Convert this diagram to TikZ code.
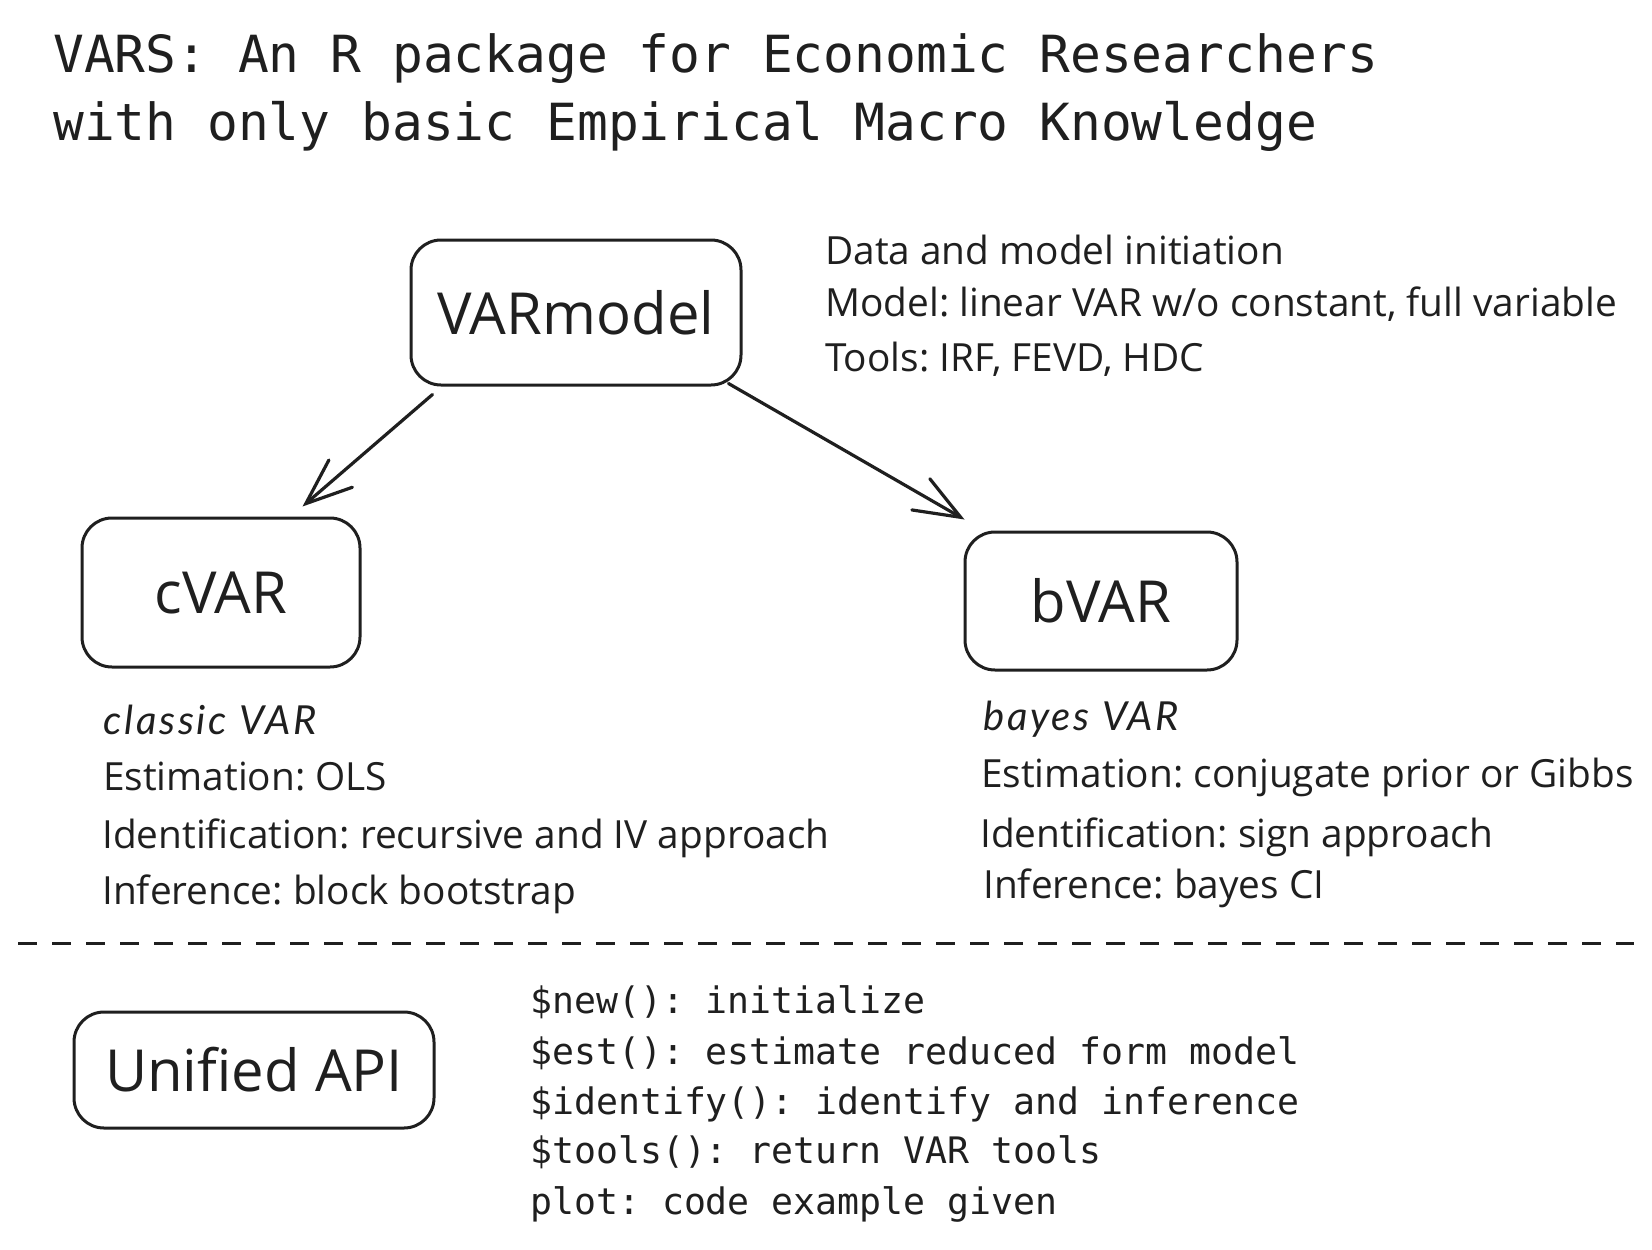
\documentclass[tikz,border=0pt]{standalone}
\usepackage{fontspec}
\setmainfont{Open Sans}
\newfontfamily\monofont{DejaVu Sans Mono}
\newfontfamily\handfont{Lato}[LetterSpace=7]
\usepackage{tikz}
\usetikzlibrary{arrows.meta, positioning, calc}
\frenchspacing

\begin{document}
\begin{tikzpicture}[x=1pt, y=-1pt,
        model/.style={rectangle, draw=black!88, text=black!88, line width=3pt, rounded corners=30pt, inner sep=0pt, font=\fontsize{58}{70}\selectfont},
        note/.style={anchor=base west, inner sep=0pt, text=black!88, font=\fontsize{38.8}{47}\selectfont},
        hand/.style={anchor=base west, inner sep=0pt, text=black!88, font=\handfont\itshape\fontsize{40}{48}\selectfont},
        code/.style={anchor=base west, inner sep=0pt, text=black!88, font=\monofont\fontsize{36.5}{50}\selectfont},
        heading/.style={anchor=base west, inner sep=0pt, text=black!88, font=\monofont\fontsize{51.2}{68}\selectfont},
        arrow/.style={-{Straight Barb[length=46pt, width=36pt, line cap=round]}, line width=3.2pt, line cap=round, draw=black!88}
    ]
        \useasboundingbox (0,0) rectangle (1652,1250);

        % Title
        \node[heading] (title1) at (53,72) {VARS: An R package for Economic Researchers};
        \node[heading] (title2) at (53,140) {with only basic Empirical Macro Knowledge};

        % Model boxes
        \node[model, minimum width=330pt, minimum height=145pt] (varmodel) at (576,312.5) {VARmodel};
        \node[model, minimum width=278pt, minimum height=149pt] (cvar) at (221,592.5) {cVAR};
        \node[model, minimum width=272pt, minimum height=138pt] (bvar) at (1101,601) {bVAR};

        % VARmodel notes
        \node[note] (vm1) at (825,264) {Data and model initiation};
        \node[note] (vm2) at (825,316) {Model: linear VAR w/o constant, full variable};
        \node[note] (vm3) at (825,371) {Tools: IRF, FEVD, HDC};

        % cVAR notes
        \node[hand] (cv0) at (103,734) {classic VAR};
        \node[note] (cv1) at (103,790) {Estimation: OLS};
        \node[note] (cv2) at (102,848) {Identification: recursive and IV approach};
        \node[note] (cv3) at (102,904) {Inference: block bootstrap};

        % bVAR notes
        \node[hand] (bv0) at (983,730) {bayes VAR};
        \node[note] (bv1) at (981,787) {Estimation: conjugate prior or Gibbs};
        \node[note] (bv2) at (980,847) {Identification: sign approach};
        \node[note] (bv3) at (983,898) {Inference: bayes CI};

        % Connectors
        \draw[arrow] ([shift={(23,8)}]varmodel.south west) -- ([shift={(-59,-10)}]cvar.north east);
        \draw[arrow] ([shift={(-14,-3)}]varmodel.south east) -- ([shift={(1,-11)}]bvar.north west);

        % Separator
        \coordinate (sepL) at (18,943);
        \coordinate (sepR) at (1634,943);
        \draw[dash pattern=on 19pt off 15pt, line width=3pt, draw=black!88] (sepL) -- (sepR);

        % Unified API
        \node[model, minimum width=360pt, minimum height=116pt] (api) at (254,1070) {Unified API};
        \node[code] (api1) at (530,1013) {\$new(): initialize};
        \node[code] (api2) at (530,1064) {\$est(): estimate reduced form model};
        \node[code] (api3) at (530,1114) {\$identify(): identify and inference};
        \node[code] (api4) at (530,1163) {\$tools(): return VAR tools};
        \node[code] (api5) at (530,1214) {plot: code example given};

    \end{tikzpicture}
\end{document}
